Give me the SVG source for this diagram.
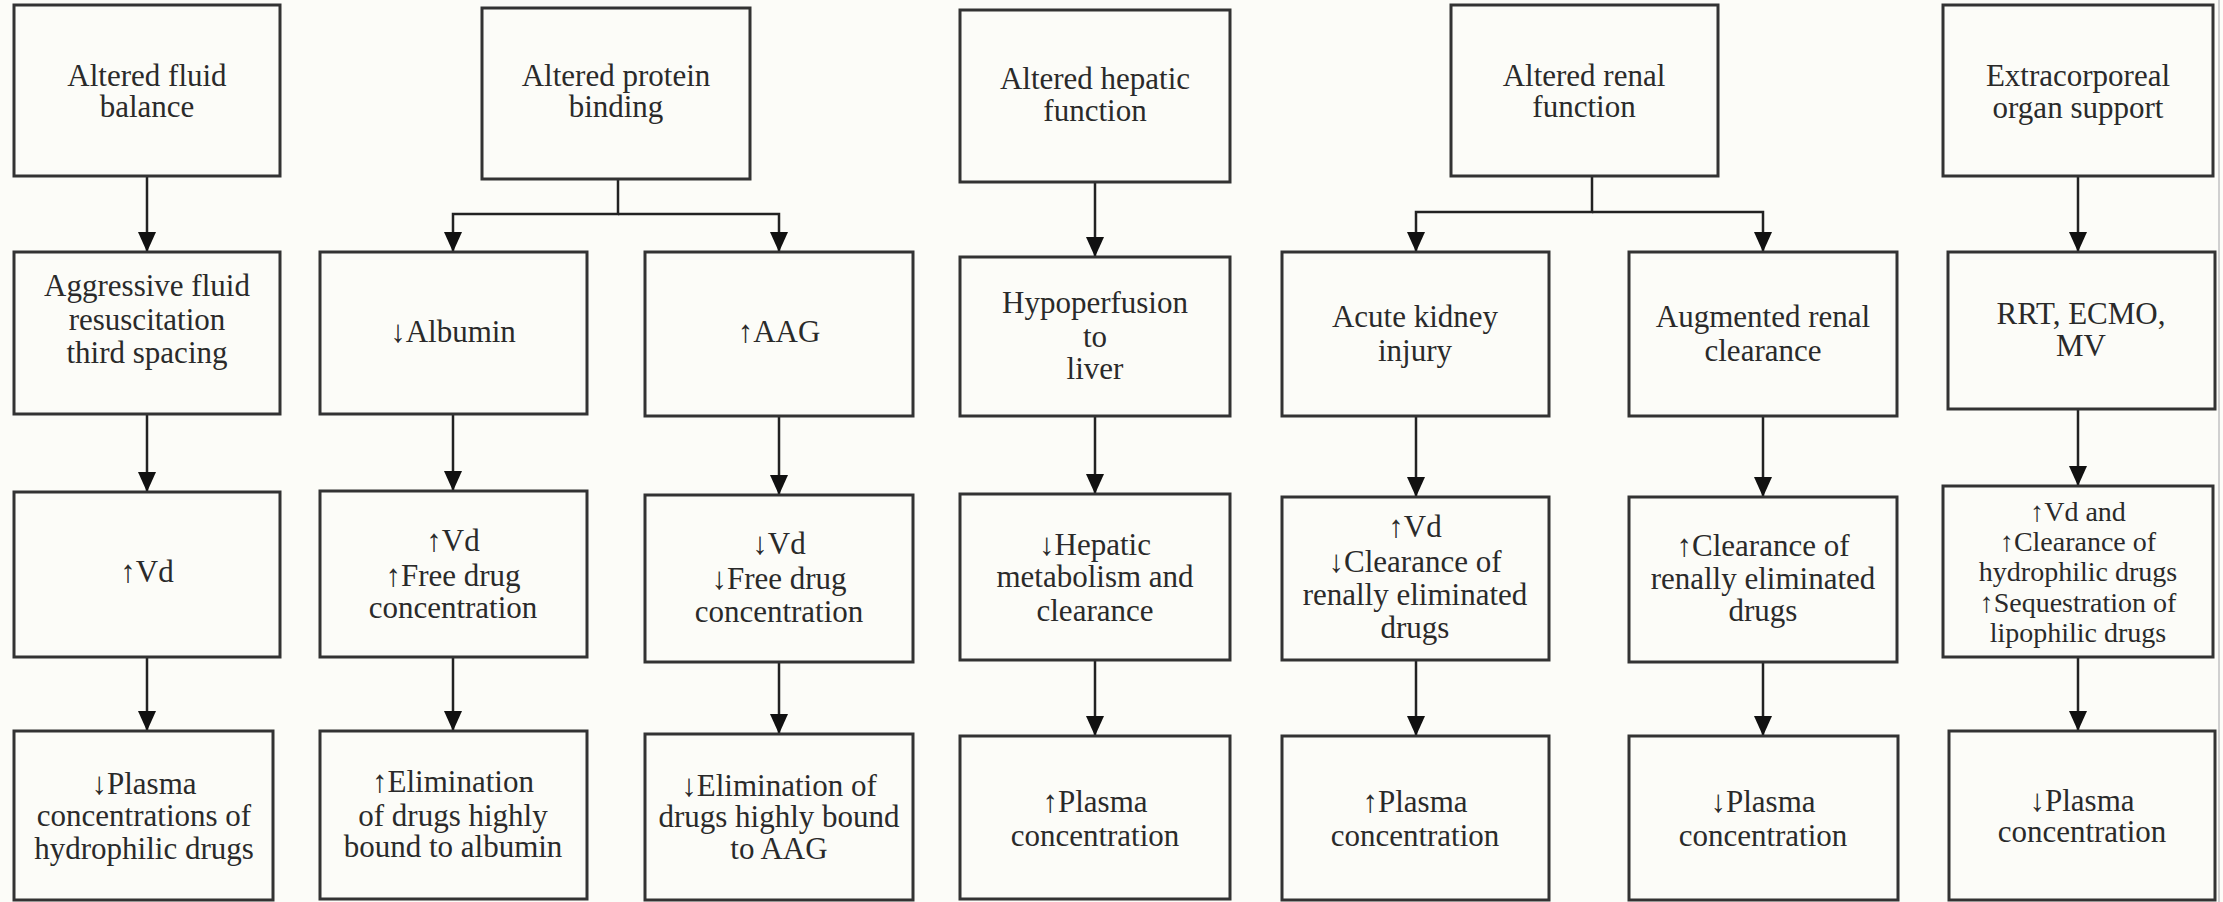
<svg xmlns="http://www.w3.org/2000/svg" width="2223" height="902" viewBox="0 0 2223 902">
<style>
.bx{fill:#fcfcf8;stroke:#333;stroke-width:3}
.t{font-family:"Liberation Serif","Tinos","DejaVu Serif","Noto Serif","Times New Roman",serif;font-size:31px;fill:#2a2a2a;text-anchor:middle}
.s{font-size:28px}
.c{fill:none;stroke:#222;stroke-width:2.5}
</style>
<defs>
<marker id="ah" markerUnits="userSpaceOnUse" viewBox="0 0 20 18" refX="20" refY="9" markerWidth="20" markerHeight="18" orient="auto">
<path d="M0,0 L20,9 L0,18 z" fill="#111"/>
</marker>
</defs>
<rect x="0" y="0" width="2223" height="902" fill="#fcfcf8"/>
<line x1="2219" y1="0" x2="2219" y2="902" stroke="#d0d0d0" stroke-width="2"/>
<g id="connectors">
<path class="c" marker-end="url(#ah)" d="M147,176 V252"/>
<path class="c" marker-end="url(#ah)" d="M147,414 V492"/>
<path class="c" marker-end="url(#ah)" d="M147,657 V731"/>
<path class="c" marker-end="url(#ah)" d="M618,179 V214 H453 V252"/>
<path class="c" marker-end="url(#ah)" d="M618,214 H779 V252"/>
<path class="c" marker-end="url(#ah)" d="M453,414 V491"/>
<path class="c" marker-end="url(#ah)" d="M453,657 V731"/>
<path class="c" marker-end="url(#ah)" d="M779,416 V495"/>
<path class="c" marker-end="url(#ah)" d="M779,662 V734"/>
<path class="c" marker-end="url(#ah)" d="M1095,182 V257"/>
<path class="c" marker-end="url(#ah)" d="M1095,416 V494"/>
<path class="c" marker-end="url(#ah)" d="M1095,660 V736"/>
<path class="c" marker-end="url(#ah)" d="M1592,176 V212 H1416 V252"/>
<path class="c" marker-end="url(#ah)" d="M1592,212 H1763 V252"/>
<path class="c" marker-end="url(#ah)" d="M1416,416 V497"/>
<path class="c" marker-end="url(#ah)" d="M1416,660 V736"/>
<path class="c" marker-end="url(#ah)" d="M1763,416 V497"/>
<path class="c" marker-end="url(#ah)" d="M1763,662 V736"/>
<path class="c" marker-end="url(#ah)" d="M2078,176 V252"/>
<path class="c" marker-end="url(#ah)" d="M2078,409 V486"/>
<path class="c" marker-end="url(#ah)" d="M2078,657 V731"/>
</g>
<g id="fluid-balance"><rect class="bx" x="14" y="5" width="266" height="171"/><text class="t" x="147" y="86">Altered fluid</text><text class="t" x="147" y="117">balance</text></g>
<g id="aggressive-fluid"><rect class="bx" x="14" y="252" width="266" height="162"/><text class="t" x="147" y="296">Aggressive fluid</text><text class="t" x="147" y="330">resuscitation</text><text class="t" x="147" y="363">third spacing</text></g>
<g id="vd-up"><rect class="bx" x="14" y="492" width="266" height="165"/><text class="t" x="147" y="582">↑Vd</text></g>
<g id="plasma-hydrophilic"><rect class="bx" x="14" y="731" width="259" height="169"/><text class="t" x="144" y="794">↓Plasma</text><text class="t" x="144" y="826">concentrations of</text><text class="t" x="144" y="859">hydrophilic drugs</text></g>

<g id="protein-binding"><rect class="bx" x="482" y="8" width="268" height="171"/><text class="t" x="616" y="86">Altered protein</text><text class="t" x="616" y="117">binding</text></g>
<g id="albumin"><rect class="bx" x="320" y="252" width="267" height="162"/><text class="t" x="453" y="342">↓Albumin</text></g>
<g id="albumin-effect"><rect class="bx" x="320" y="491" width="267" height="166"/><text class="t" x="453" y="551">↑Vd</text><text class="t" x="453" y="586">↑Free drug</text><text class="t" x="453" y="618">concentration</text></g>
<g id="albumin-elim"><rect class="bx" x="320" y="731" width="267" height="168"/><text class="t" x="453" y="792">↑Elimination</text><text class="t" x="453" y="826">of drugs highly</text><text class="t" x="453" y="857">bound to albumin</text></g>
<g id="aag"><rect class="bx" x="645" y="252" width="268" height="164"/><text class="t" x="779" y="342">↑AAG</text></g>
<g id="aag-effect"><rect class="bx" x="645" y="495" width="268" height="167"/><text class="t" x="779" y="554">↓Vd</text><text class="t" x="779" y="589">↓Free drug</text><text class="t" x="779" y="622">concentration</text></g>
<g id="aag-elim"><rect class="bx" x="645" y="734" width="268" height="166"/><text class="t" x="779" y="796">↓Elimination of</text><text class="t" x="779" y="827">drugs highly bound</text><text class="t" x="779" y="859">to AAG</text></g>

<g id="hepatic"><rect class="bx" x="960" y="10" width="270" height="172"/><text class="t" x="1095" y="89">Altered hepatic</text><text class="t" x="1095" y="121">function</text></g>
<g id="hypoperfusion"><rect class="bx" x="960" y="257" width="270" height="159"/><text class="t" x="1095" y="313">Hypoperfusion</text><text class="t" x="1095" y="347">to</text><text class="t" x="1095" y="379">liver</text></g>
<g id="hepatic-metab"><rect class="bx" x="960" y="494" width="270" height="166"/><text class="t" x="1095" y="555">↓Hepatic</text><text class="t" x="1095" y="587">metabolism and</text><text class="t" x="1095" y="621">clearance</text></g>
<g id="hepatic-plasma"><rect class="bx" x="960" y="736" width="270" height="163"/><text class="t" x="1095" y="812">↑Plasma</text><text class="t" x="1095" y="846">concentration</text></g>

<g id="renal"><rect class="bx" x="1451" y="5" width="267" height="171"/><text class="t" x="1584" y="86">Altered renal</text><text class="t" x="1584" y="117">function</text></g>
<g id="aki"><rect class="bx" x="1282" y="252" width="267" height="164"/><text class="t" x="1415" y="327">Acute kidney</text><text class="t" x="1415" y="361">injury</text></g>
<g id="aki-effect"><rect class="bx" x="1282" y="497" width="267" height="163"/><text class="t" x="1415" y="537">↑Vd</text><text class="t" x="1415" y="572">↓Clearance of</text><text class="t" x="1415" y="605">renally eliminated</text><text class="t" x="1415" y="638">drugs</text></g>
<g id="aki-plasma"><rect class="bx" x="1282" y="736" width="267" height="164"/><text class="t" x="1415" y="812">↑Plasma</text><text class="t" x="1415" y="846">concentration</text></g>
<g id="arc"><rect class="bx" x="1629" y="252" width="268" height="164"/><text class="t" x="1763" y="327">Augmented renal</text><text class="t" x="1763" y="361">clearance</text></g>
<g id="arc-effect"><rect class="bx" x="1629" y="497" width="268" height="165"/><text class="t" x="1763" y="556">↑Clearance of</text><text class="t" x="1763" y="589">renally eliminated</text><text class="t" x="1763" y="621">drugs</text></g>
<g id="arc-plasma"><rect class="bx" x="1629" y="736" width="269" height="164"/><text class="t" x="1763" y="812">↓Plasma</text><text class="t" x="1763" y="846">concentration</text></g>

<g id="ecos"><rect class="bx" x="1943" y="5" width="270" height="171"/><text class="t" x="2078" y="86">Extracorporeal</text><text class="t" x="2078" y="118">organ support</text></g>
<g id="rrt"><rect class="bx" x="1948" y="252" width="267" height="157"/><text class="t" x="2081" y="324">RRT, ECMO,</text><text class="t" x="2081" y="356">MV</text></g>
<g id="rrt-effect"><rect class="bx" x="1943" y="486" width="270" height="171"/><text class="t s" x="2078" y="521">↑Vd and</text><text class="t s" x="2078" y="551">↑Clearance of</text><text class="t s" x="2078" y="581">hydrophilic drugs</text><text class="t s" x="2078" y="612">↑Sequestration of</text><text class="t s" x="2078" y="642">lipophilic drugs</text></g>
<g id="rrt-plasma"><rect class="bx" x="1949" y="731" width="266" height="169"/><text class="t" x="2082" y="811">↓Plasma</text><text class="t" x="2082" y="842">concentration</text></g>
</svg>
